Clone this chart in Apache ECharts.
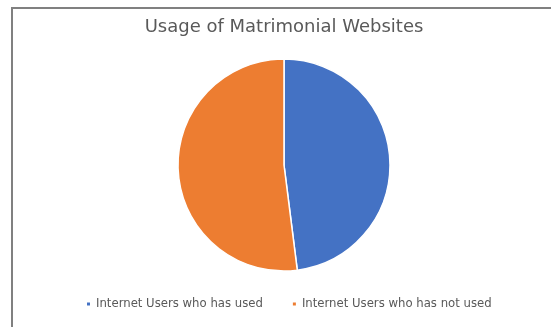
<!DOCTYPE html>
<html>
<head>
<meta charset="utf-8">
<script src="https://cdn.jsdelivr.net/npm/echarts@6/dist/echarts.min.js"></script>
<style>
  html, body { margin: 0; padding: 0; background: #fff; }
  #frame { position: absolute; left: 11px; top: 7px; width: 600px; height: 400px; border: 2px solid #808080; pointer-events: none; }
  #main { position: absolute; left: 0; top: 0; width: 551px; height: 327px; }
</style>
</head>
<body>
<div id="main"></div>
<div id="frame"></div>
<script>
var categories = ['Internet Users who has used', 'Internet Users who has not used']
var values = [48, 52]
var colors = ['#4472C4', '#ED7D31']

var chart = echarts.init(document.getElementById('main'))
chart.setOption({
  animation: false,
  title: {
    text: 'Usage of Matrimonial Websites',
    left: 279,
    top: 13,
    textAlign: 'center',
    textStyle: { fontFamily: 'DejaVu Sans', fontSize: 18, fontWeight: 'normal', color: '#595959' }
  },
  legend: {
    bottom: 12,
    left: 80,
    icon: 'rect',
    itemWidth: 5,
    itemHeight: 5,
    itemGap: 28,
    textStyle: { fontFamily: 'DejaVu Sans', fontSize: 11.7, color: '#595959' },
    data: categories
  },
  series: [{
    type: 'pie',
    center: [284, 165],
    radius: 106,
    startAngle: 90,
    clockwise: true,
    label: { show: false },
    itemStyle: { borderColor: '#fff', borderWidth: 1.5 },
    data: categories.map(function (c, i) {
      return { name: c, value: values[i], itemStyle: { color: colors[i] } }
    })
  }]
})
</script>
</body>
</html>
